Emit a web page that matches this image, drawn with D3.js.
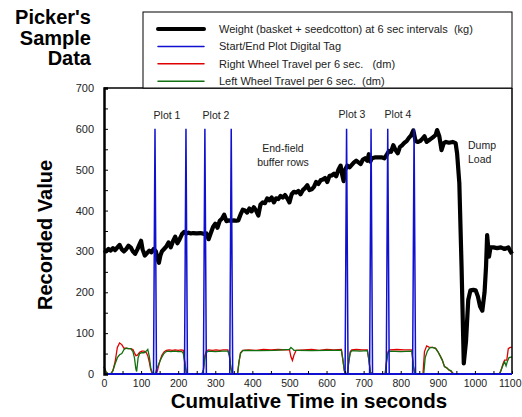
<!DOCTYPE html>
<html><head><meta charset="utf-8">
<script src="https://cdn.jsdelivr.net/npm/d3@7"></script>
<style>body{margin:0;background:#fff}svg{display:block;font-family:Arial,"Liberation Sans",sans-serif}text{white-space:pre}</style>
</head><body>
<svg id="c" width="522" height="417"></svg>
<script>
// ---- data (time in seconds, value) ----
const weight = [[0,303],[6,300],[12,306],[18,302],[24,308],[30,303],[36,310],[42,316],[48,305],[54,300],[60,306],[66,314],[72,310],[78,300],[84,294],[90,305],[96,318],[100,326],[104,305],[110,290],[116,296],[122,302],[128,298],[134,306],[140,300],[144,282],[148,272],[152,290],[156,300],[162,306],[168,312],[174,322],[180,310],[186,325],[192,336],[198,320],[204,330],[210,342],[216,348],[222,344],[228,346],[234,344],[240,345],[250,344],[260,345],[270,343],[276,344],[282,330],[288,345],[294,360],[300,368],[306,358],[312,375],[318,380],[324,390],[330,374],[336,376],[342,375],[350,376],[356,375],[362,376],[368,390],[374,402],[380,400],[386,395],[392,405],[398,398],[404,408],[410,400],[416,388],[422,415],[428,420],[434,418],[440,430],[446,425],[452,432],[458,420],[464,430],[470,428],[476,436],[482,432],[488,438],[494,430],[500,420],[506,440],[512,446],[518,444],[524,448],[530,440],[536,450],[542,455],[548,462],[554,450],[560,452],[566,458],[572,470],[578,465],[584,474],[590,476],[596,480],[602,470],[608,485],[614,486],[620,490],[626,484],[632,500],[638,510],[642,488],[646,472],[650,500],[656,510],[662,506],[668,512],[674,518],[680,522],[686,518],[692,514],[698,525],[704,528],[710,522],[714,538],[718,520],[722,528],[730,530],[740,530],[750,530],[756,528],[762,536],[768,546],[774,544],[780,560],[786,548],[792,540],[798,556],[804,560],[810,566],[816,570],[822,578],[828,584],[834,596],[840,570],[846,568],[852,570],[858,575],[864,582],[870,568],[876,572],[882,576],[888,580],[894,585],[898,597],[904,582],[910,548],[916,565],[922,568],[930,566],[940,568],[948,565],[952,540],[958,467],[964,263],[970,26],[976,80],[982,181],[988,205],[996,206],[1002,205],[1008,190],[1014,165],[1020,155],[1026,200],[1030,263],[1033,340],[1038,287],[1042,310],[1050,310],[1060,308],[1070,310],[1080,306],[1090,310],[1096,300],[1100,294]];

const tagTimes = [137.5, 221, 272, 343, 654, 720, 765, 836];
const tagPeak = 600;

const rightWheel = [[0,18],[6,4],[12,0],[18,0],[24,8],[30,30],[36,65],[42,76],[48,72],[54,63],[60,63],[66,62],[72,62],[78,60],[82,52],[86,45],[90,46],[96,53],[102,56],[108,56],[114,52],[118,45],[122,30],[126,10],[130,2],[134,0],[140,0],[144,8],[150,30],[156,46],[162,54],[168,58],[176,59],[184,58],[192,59],[200,58],[208,59],[214,58],[218,30],[222,2],[226,0],[264,0],[268,10],[272,45],[276,57],[282,59],[292,58],[302,59],[312,58],[322,59],[334,59],[338,45],[342,15],[346,0],[360,0],[364,30],[368,52],[374,58],[390,59],[410,58],[430,60],[450,59],[470,60],[490,59],[500,60],[504,42],[508,33],[512,46],[518,58],[540,59],[560,60],[580,58],[600,60],[620,59],[640,60],[644,35],[648,8],[652,0],[656,0],[660,30],[664,55],[668,59],[680,60],[696,59],[710,59],[714,35],[718,5],[722,0],[758,0],[762,35],[766,55],[770,59],[790,60],[810,59],[830,59],[834,20],[838,0],[860,0],[864,55],[870,69],[876,66],[886,65],[894,63],[900,55],[906,45],[912,34],[918,18],[924,15],[930,10],[936,6],[940,2],[944,0],[1066,0],[1070,8],[1076,26],[1080,34],[1086,34],[1090,62],[1095,65],[1100,65]];

const leftWheel = [[0,18],[6,4],[12,0],[18,0],[24,8],[30,25],[36,40],[42,47],[48,50],[54,60],[60,63],[66,62],[72,62],[78,55],[82,40],[86,12],[88,6],[92,40],[96,50],[102,52],[108,52],[114,56],[118,60],[122,44],[126,15],[130,4],[134,0],[138,0],[142,12],[148,25],[154,38],[160,48],[166,54],[172,56],[180,55],[190,56],[200,55],[210,55],[214,50],[218,25],[222,2],[226,0],[264,0],[268,10],[272,40],[276,53],[282,56],[300,55],[320,56],[334,56],[338,45],[342,15],[346,0],[360,0],[364,30],[368,50],[374,57],[380,58],[420,57],[460,58],[500,60],[504,65],[508,62],[512,58],[520,58],[560,57],[600,58],[640,58],[644,35],[648,8],[652,0],[656,0],[660,30],[664,52],[668,57],[690,56],[710,57],[714,35],[718,5],[722,0],[758,0],[762,30],[766,52],[770,56],[800,55],[830,56],[834,20],[838,0],[862,0],[866,40],[872,56],[878,64],[886,65],[894,63],[900,55],[906,45],[912,34],[918,18],[924,15],[930,10],[936,8],[940,2],[944,0],[1066,0],[1070,8],[1076,22],[1080,30],[1084,20],[1088,32],[1092,40],[1100,42]];

const yTicks = [0,100,200,300,400,500,600,700];
const xTicks = [0,100,200,300,400,500,600,700,800,900,1000,1100];
const legendItems = [
  {label:"Weight (basket + seedcotton) at 6 sec intervals  (kg)", color:"#000", w:4},
  {label:"Start/End Plot Digital Tag", color:"#1010d0", w:1.5},
  {label:"Right Wheel Travel per 6 sec.   (dm)", color:"#e00000", w:1.5},
  {label:"Left Wheel Travel per 6 sec.  (dm)", color:"#107010", w:1.5}
];
const titleLines = ["Picker's","Sample","Data"];

// ---- chart ----
const svg = d3.select("#c");
const L=104, R=512, T=88, B=374;
const x = d3.scaleLinear().domain([0,1100]).range([L,R]);
const y = d3.scaleLinear().domain([0,700]).range([B,T]);

// tag series
const tag = [[0,0]];
tagTimes.forEach(t=>{ tag.push([t-4,0],[t,tagPeak],[t+4,0]); });
tag.push([1100,0]);

const line = d3.line().x(d=>x(d[0])).y(d=>y(d[1]));
const g = svg.append("g");
g.append("path").datum(rightWheel).attr("d",line).attr("fill","none").attr("stroke","#e00000").attr("stroke-width",1.3);
g.append("path").datum(leftWheel).attr("d",line).attr("fill","none").attr("stroke","#107010").attr("stroke-width",1.3);
g.append("path").datum(weight).attr("d",line).attr("fill","none").attr("stroke","#000").attr("stroke-width",4.2).attr("stroke-linejoin","round");
g.append("path").datum(tag).attr("d",line).attr("fill","none").attr("stroke","#1010d0").attr("stroke-width",1.5);

// frame
svg.append("line").attr("x1",L).attr("x2",R).attr("y1",T).attr("y2",T).attr("stroke","#000").attr("stroke-width",1.5);
svg.append("line").attr("x1",R).attr("x2",R).attr("y1",T).attr("y2",B).attr("stroke","#000").attr("stroke-width",1.5);
svg.append("line").attr("x1",L).attr("x2",R).attr("y1",B).attr("y2",B).attr("stroke","#1010d0").attr("stroke-width",2);

// axes
const yAx = svg.append("g").attr("transform",`translate(${L},0)`)
  .call(d3.axisLeft(y).tickValues(d3.range(0,701,50)).tickSize(-4).tickFormat(d=>yTicks.includes(d)?d:"").tickPadding(10));
yAx.select(".domain").attr("stroke","#000").attr("stroke-width",2.5);
yAx.selectAll("text").attr("font-size",11).attr("fill","#222").attr("font-family","Arial, Liberation Sans, sans-serif");
const xAx = svg.append("g").attr("transform",`translate(0,${B})`)
  .call(d3.axisBottom(x).tickValues(d3.range(0,1101,50)).tickSize(-3).tickFormat(d=>xTicks.includes(d)?d:"").tickPadding(6));
xAx.select(".domain").remove();
xAx.selectAll("text").attr("font-size",10.5).attr("fill","#222").attr("font-family","Arial, Liberation Sans, sans-serif");
xAx.selectAll(".tick").filter(d=>d===1100).select("text").attr("text-anchor","end").attr("dx","9");

// axis titles
svg.append("text").attr("x",309).attr("y",408).attr("text-anchor","middle").attr("font-size",20.5).attr("font-weight","bold").text("Cumulative Time in seconds");
svg.append("text").attr("transform","translate(52,235) rotate(-90)").attr("text-anchor","middle").attr("font-size",20).attr("font-weight","bold").text("Recorded Value");

// title
titleLines.forEach((s,i)=>{
  svg.append("text").attr("x",91).attr("y",24+i*20.5).attr("text-anchor","end").attr("font-size",20).attr("font-weight","bold").text(s);
});

// legend
const lg = svg.append("g");
lg.append("rect").attr("x",143).attr("y",12).attr("width",369).attr("height",76).attr("fill","#fff").attr("stroke","#000").attr("stroke-width",1);
legendItems.forEach((d,i)=>{
  const yy = 29 + i*17.4;
  lg.append("line").attr("x1",158).attr("x2",204).attr("y1",yy).attr("y2",yy).attr("stroke",d.color).attr("stroke-width",d.w).attr("stroke-linecap","round");
  lg.append("text").attr("x",219).attr("y",yy+4).attr("font-size",11).attr("fill","#222").text(d.label);
});

// annotations
const ann = [
  {lines:["Plot 1"], px:167, py:119, anchor:"middle"},
  {lines:["Plot 2"], px:216, py:119, anchor:"middle"},
  {lines:["Plot 3"], px:352, py:118, anchor:"middle"},
  {lines:["Plot 4"], px:398, py:118, anchor:"middle"},
  {lines:["End-field","buffer rows"], px:283, py:152, anchor:"middle"},
  {lines:["Dump","Load"], px:468, py:149, anchor:"start"}
];
ann.forEach(a=>{
  a.lines.forEach((s,i)=>svg.append("text").attr("x",a.px).attr("y",a.py+i*13.5).attr("text-anchor",a.anchor).attr("font-size",10.5).attr("fill","#222").text(s));
});
</script>
</body></html>
